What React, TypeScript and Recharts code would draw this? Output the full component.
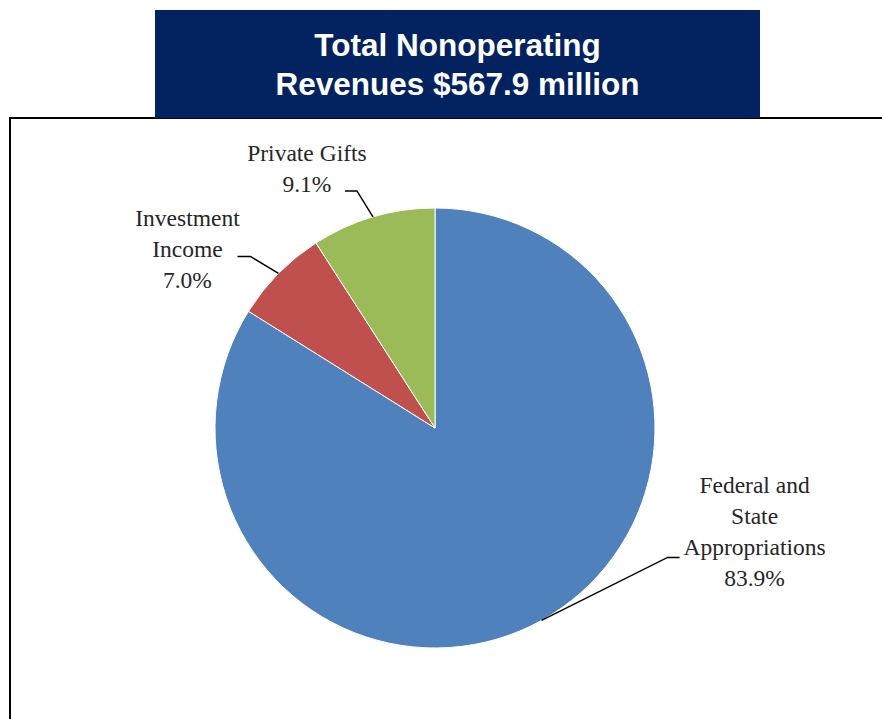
import { PieChart, Pie, Cell } from 'recharts'

const categories = ['Federal and State Appropriations', 'Investment Income', 'Private Gifts']
const shares = [83.9, 7.0, 9.1]
const labelLines = [
  ['Federal and', 'State', 'Appropriations', '83.9%'],
  ['Investment', 'Income', '7.0%'],
  ['Private Gifts', '9.1%'],
]
const colors = ['#4F81BD', '#C0504D', '#9BBB59']

// where each label's leader line bends and where the text block sits, relative to the slice edge
const labelLayout = [
  { elbowDx: 126, elbowDy: -63, tailDx: 12, textDx: 213, textTop: -127 },
  { elbowDx: -28, elbowDy: -17, tailDx: -13, textDx: -91, textTop: -47 },
  { elbowDx: -16, elbowDy: -26, tailDx: -12, textDx: -66, textTop: -56 },
]

const data = categories.map((name, i) => ({ name, value: shares[i] }))

const RADIAN = Math.PI / 180

function renderLabel(props: any) {
  const { cx, cy, midAngle, outerRadius, index } = props
  const lay = labelLayout[index]
  const x0 = cx + outerRadius * Math.cos(-midAngle * RADIAN)
  const y0 = cy + outerRadius * Math.sin(-midAngle * RADIAN)
  const x1 = x0 + lay.elbowDx
  const y1 = y0 + lay.elbowDy
  const x2 = x1 + lay.tailDx
  const lines = labelLines[index]
  const tx = x0 + lay.textDx
  const ty = y0 + lay.textTop
  return (
    <g>
      <polyline
        points={`${x0},${y0} ${x1},${y1} ${x2},${y1}`}
        fill="none"
        stroke="#000"
        strokeWidth={1.5}
      />
      <text
        x={tx}
        y={ty}
        textAnchor="middle"
        fill="#262626"
        fontFamily="'Liberation Serif', 'Times New Roman', serif"
        fontSize={23.5}
      >
        {lines.map((t, i) => (
          <tspan key={i} x={tx} dy={i === 0 ? 0 : 31}>
            {t}
          </tspan>
        ))}
      </text>
    </g>
  )
}

export default function App() {
  return (
    <div style={{ position: 'absolute', left: 0, top: 0, width: 882, height: 719, background: '#fff', overflow: 'hidden' }}>
      {/* frame */}
      <div
        style={{
          position: 'absolute',
          left: 9,
          top: 117,
          width: 882,
          height: 700,
          borderTop: '2px solid #000',
          borderLeft: '2px solid #000',
        }}
      />
      <div style={{ position: 'absolute', left: 0, top: 0 }}>
        <PieChart width={882} height={719} margin={{ top: 0, right: 0, bottom: 0, left: 0 }}>
          <Pie
            data={data}
            dataKey="value"
            nameKey="name"
            cx={435}
            cy={428}
            outerRadius={220}
            startAngle={90}
            endAngle={-270}
            stroke="#fff"
            strokeWidth={1}
            label={renderLabel}
            labelLine={false}
            isAnimationActive={false}
          >
            {data.map((d, i) => (
              <Cell key={d.name} fill={colors[i]} />
            ))}
          </Pie>
        </PieChart>
      </div>
      {/* title box */}
      <div
        style={{
          position: 'absolute',
          left: 155,
          top: 10,
          width: 605,
          height: 108,
          background: '#022260',
          color: '#fff',
          fontFamily: 'Arial, "Liberation Sans", sans-serif',
          fontWeight: 'bold',
          fontSize: 31.5,
          lineHeight: '39px',
          textAlign: 'center',
          paddingTop: 16,
          boxSizing: 'border-box',
        }}
      >
        Total Nonoperating
        <br />
        Revenues $567.9 million
      </div>
    </div>
  )
}
